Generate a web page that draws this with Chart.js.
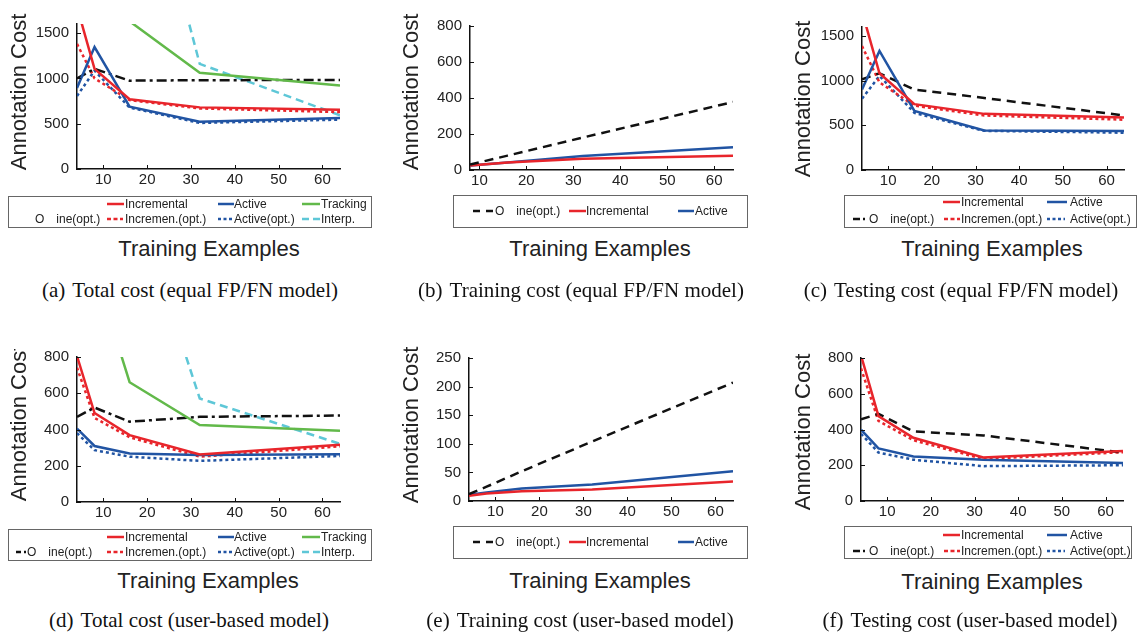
<!DOCTYPE html>
<html>
<head>
<meta charset="utf-8">
<script src="https://cdn.jsdelivr.net/npm/chart.js@4.4.1/dist/chart.umd.min.js"></script>
<style>
  body { margin: 0; background: #fff; }
  #page { position: relative; width: 1138px; height: 632px; overflow: hidden; font-family: "Liberation Sans", Arial, sans-serif; color: #222; }
  canvas { position: absolute; }
  .clip { position: absolute; overflow: hidden; }
  .ytitle { position: absolute; font-size: 22px; line-height: 22px; white-space: nowrap; transform: translate(-50%, -50%) rotate(-90deg); }
  .xtitle { position: absolute; font-size: 22px; line-height: 22px; white-space: nowrap; transform: translateX(-50%); }
  .caption { position: absolute; font-family: "Liberation Serif", "Times New Roman", serif; font-size: 21px; line-height: 21px; white-space: nowrap; transform: translateX(-50%); color: #111; }
  .legbox { position: absolute; border: 1px solid #666; box-sizing: border-box; }
  .legtxt { position: absolute; font-size: 12px; line-height: 12px; white-space: nowrap; transform: translateY(-50%); }
  .legline { position: absolute; line-height: 0; }
  .legline svg { display: block; }
</style>
</head>
<body>
<div id="page"></div>
<script>
// x values (number of training examples)
const xsFull = [4, 8, 16, 32, 64];
const xsTrain = [8, 16, 32, 64];
const xTickLabels = [10, 20, 30, 40, 50, 60];
const yTicks1600 = [0, 500, 1000, 1500];
const yTicks800 = [0, 200, 400, 600, 800];
const yTicks250 = [0, 50, 100, 150, 200, 250];

// (a) total cost, equal FP/FN model
const aIncremental = [1790, 1105, 770, 680, 655];
const aIncrOpt = [1380, 1000, 760, 668, 628];
const aActive = [895, 1345, 688, 521, 564];
const aActiveOpt = [805, 1085, 678, 508, 545];
const aOffline = [1000, 1105, 975, 980, 982];
const aTracking = [null, null, 1630, 1061, 922];
const aInterp = [null, null, 4090, 1160, 593];

// (b) training cost, equal FP/FN model
const bOffline = [30, 80, 180, 378];
const bIncremental = [25, 42, 62, 79];
const bActive = [25, 42, 78, 126];

// (c) testing cost, equal FP/FN model
const cIncremental = [1775, 1082, 737, 628, 588];
const cIncrOpt = [1387, 980, 720, 610, 563];
const cActive = [900, 1332, 661, 443, 436];
const cActiveOpt = [798, 1053, 640, 438, 417];
const cOffline = [1016, 1082, 900, 806, 610];

// (d) total cost, user-based model
const dIncremental = [805, 491, 369, 262, 316];
const dIncrOpt = [741, 464, 357, 250, 307];
const dActive = [405, 309, 268, 259, 264];
const dActiveOpt = [380, 286, 250, 227, 254];
const dOffline = [470, 521, 443, 470, 477];
const dTracking = [null, 1280, 661, 425, 393];
const dInterp = [null, null, 1755, 571, 321];

// (e) training cost, user-based model
const eOffline = [12, 25, 52, 104, 207];
const eIncremental = [9, 13, 17, 20, 34];
const eActive = [11, 15, 22, 29, 52];

// (f) testing cost, user-based model
const fIncremental = [815, 475, 354, 244, 280];
const fIncrOpt = [742, 448, 340, 235, 273];
const fActive = [399, 294, 249, 231, 213];
const fActiveOpt = [376, 271, 231, 195, 200];
const fOffline = [457, 488, 389, 367, 271];

const RED = '#e8252b', BLUE = '#2154a3', GREEN = '#62b94a', CYAN = '#5ec7d7', BLACK = '#111';
const STY = {
  incremental: { color: RED, dash: [] },
  incrOpt: { color: RED, dash: [3, 3] },
  active: { color: BLUE, dash: [] },
  activeOpt: { color: BLUE, dash: [3, 3] },
  offlineDD: { color: BLACK, dash: [10, 4, 3, 4] },
  offlineD: { color: BLACK, dash: [9, 6] },
  tracking: { color: GREEN, dash: [] },
  interp: { color: CYAN, dash: [8, 5] }
};

const YW = 60, XH = 28, PT = 12, PR = 20;

// inward tick marks, like the MATLAB axes
const inwardTicks = {
  id: 'inwardTicks',
  afterDraw(chart) {
    const { ctx, chartArea: a, scales: { x, y } } = chart;
    ctx.save();
    ctx.strokeStyle = '#111';
    ctx.lineWidth = 1;
    x.ticks.forEach(t => {
      const px = Math.round(x.getPixelForValue(t.value)) + 0.5;
      ctx.beginPath(); ctx.moveTo(px, a.bottom); ctx.lineTo(px, a.bottom - 4); ctx.stroke();
    });
    y.ticks.forEach(t => {
      const py = Math.round(y.getPixelForValue(t.value)) + 0.5;
      ctx.beginPath(); ctx.moveTo(a.left, py); ctx.lineTo(a.left + 4, py); ctx.stroke();
    });
    ctx.restore();
  }
};

const legendRows3 = (top, offlineSample, offlineTx) => [
  { k: 'incremental', label: 'Incremental', x: 107, w: 17, tx: 125, dy: 7.5, top },
  { k: 'active', label: 'Active', x: 218, w: 16, tx: 234, dy: 7.5, top },
  { k: 'tracking', label: 'Tracking', x: 302, w: 18, tx: 321, dy: 7.5, top },
  { k: 'offlineDD', label: 'O\u2003ine(opt.)', x: 16, w: 10, tx: offlineTx, dy: 23, top, dash: [5, 3, 2, 20], hide: !offlineSample },
  { k: 'incrOpt', label: 'Incremen.(opt.)', x: 107, w: 16, tx: 125, dy: 23, top, dash: [4, 2.5] },
  { k: 'activeOpt', label: 'Active(opt.)', x: 218, w: 15, tx: 234, dy: 23, top, dash: [3, 2.5] },
  { k: 'interp', label: 'Interp.', x: 302, w: 18, tx: 321, dy: 23, top, dash: [7, 4] }
];
const legendRow1 = (top) => [
  { k: 'offlineD', label: 'O\u2003ine(opt.)', x: 473, w: 21, tx: 495, dy: 16, top, dash: [7, 6] },
  { k: 'incremental', label: 'Incremental', x: 569, w: 17, tx: 586, dy: 16, top },
  { k: 'active', label: 'Active', x: 678, w: 16, tx: 695, dy: 16, top }
];
const legendRowsC = (top, dy1, dy2) => [
  { k: 'incremental', label: 'Incremental', x: 943, w: 17, tx: 961, dy: dy1, top },
  { k: 'active', label: 'Active', x: 1047, w: 20, tx: 1070, dy: dy1, top },
  { k: 'offlineDD', label: 'O\u2003ine(opt.)', x: 853, w: 15, tx: 869, dy: dy2, top, dash: [7, 3, 2, 20] },
  { k: 'incrOpt', label: 'Incremen.(opt.)', x: 944, w: 16, tx: 961, dy: dy2, top, dash: [4, 2.5] },
  { k: 'activeOpt', label: 'Active(opt.)', x: 1047, w: 18, tx: 1070, dy: dy2, top, dash: [3, 2.5] }
];

const panels = [
  { plot: [77, 19, 340, 169], xMin: 4, xMax: 64, xs: xsFull, yMax: 1600, yTicks: yTicks1600,
    series: [['incremental', aIncremental], ['active', aActive], ['tracking', aTracking], ['offlineDD', aOffline], ['incrOpt', aIncrOpt], ['activeOpt', aActiveOpt], ['interp', aInterp]],
    yt: [19, 92], clipTop: 0, xt: [209, 238], cap: [190, 280, '(a)\u2004Total cost (equal FP/FN model)'],
    box: [8, 196, 372, 228], legend: legendRows3(196, false, 35) },
  { plot: [470, 21, 733, 170], xMin: 8, xMax: 64, xs: xsTrain, yMax: 800, yTicks: yTicks800,
    series: [['offlineD', bOffline], ['incremental', bIncremental], ['active', bActive]],
    yt: [411, 92], clipTop: 0, xt: [600, 238], cap: [581, 280, '(b)\u2004Training cost (equal FP/FN model)'],
    box: [453, 195, 748, 228], legend: legendRow1(195) },
  { plot: [862, 22, 1124, 170], xMin: 4, xMax: 64, xs: xsFull, yMax: 1600, yTicks: yTicks1600,
    series: [['incremental', cIncremental], ['active', cActive], ['offlineD', cOffline], ['incrOpt', cIncrOpt], ['activeOpt', cActiveOpt]],
    yt: [803, 99], clipTop: 0, xt: [992, 238], cap: [961, 280, '(c)\u2004Testing cost (equal FP/FN model)'],
    box: [844, 195, 1137, 228], legend: legendRowsC(195, 7, 24) },
  { plot: [77, 352, 340, 502], xMin: 4, xMax: 64, xs: xsFull, yMax: 800, yTicks: yTicks800,
    series: [['incremental', dIncremental], ['active', dActive], ['tracking', dTracking], ['offlineDD', dOffline], ['incrOpt', dIncrOpt], ['activeOpt', dActiveOpt], ['interp', dInterp]],
    yt: [19, 423], clipTop: 349, xt: [208, 570], cap: [189, 610, '(d)\u2004Total cost (user-based model)'],
    box: [8, 529, 372, 561], legend: legendRows3(529, true, 27) },
  { plot: [469, 353, 733, 501], xMin: 4, xMax: 64, xs: xsFull, yMax: 250, yTicks: yTicks250,
    series: [['offlineD', eOffline], ['incremental', eIncremental], ['active', eActive]],
    yt: [411, 425], clipTop: 345, xt: [600, 570], cap: [580, 610, '(e)\u2004Training cost (user-based model)'],
    box: [453, 526, 748, 559], legend: legendRow1(526) },
  { plot: [861, 353, 1123, 501], xMin: 4, xMax: 64, xs: xsFull, yMax: 800, yTicks: yTicks800,
    series: [['incremental', fIncremental], ['active', fActive], ['offlineD', fOffline], ['incrOpt', fIncrOpt], ['activeOpt', fActiveOpt]],
    yt: [803, 432], clipTop: 340, xt: [992, 571], cap: [970, 610, '(f)\u2004Testing cost (user-based model)'],
    box: [844, 526, 1132, 559], legend: legendRowsC(526, 9, 24.5) }
];

const page = document.getElementById('page');

function el(tag, cls, css, text) {
  const e = document.createElement(tag);
  if (cls) e.className = cls;
  Object.assign(e.style, css || {});
  if (text !== undefined) e.textContent = text;
  return e;
}

function lineSvg(color, w, dash) {
  const d = dash && dash.length ? ` stroke-dasharray="${dash.join(',')}"` : '';
  return `<svg width="${w}" height="6"><line x1="0" y1="3" x2="${w}" y2="3" stroke="${color}" stroke-width="2.5"${d}/></svg>`;
}

panels.forEach(p => {
  const [l, t, r, b] = p.plot;
  const cw = (r - l) + YW + PR, ch = (b - t) + PT + XH;
  const cv = document.createElement('canvas');
  cv.width = cw; cv.height = ch;
  Object.assign(cv.style, { left: (l - YW) + 'px', top: (t - PT) + 'px', width: cw + 'px', height: ch + 'px' });
  page.appendChild(cv);

  new Chart(cv, {
    type: 'line',
    data: {
      datasets: p.series.map(([k, vals]) => ({
        label: k,
        data: p.xs.map((x, i) => ({ x, y: vals[i] })),
        borderColor: STY[k].color,
        borderDash: STY[k].dash,
        borderWidth: 2.5,
        pointRadius: 0,
        tension: 0,
        fill: false
      }))
    },
    options: {
      responsive: false,
      animation: false,
      devicePixelRatio: 1,
      layout: { padding: { top: PT, right: PR, left: 0, bottom: 0 } },
      plugins: { legend: { display: false }, tooltip: { enabled: false } },
      scales: {
        x: {
          type: 'linear', min: p.xMin, max: p.xMax,
          grid: { display: false, drawTicks: false },
          border: { display: true, color: '#111', width: 1.5 },
          ticks: { font: { family: 'Liberation Sans', size: 15 }, color: '#222', padding: 2, autoSkip: false, maxRotation: 0, callback: v => String(v) },
          afterBuildTicks: s => { s.ticks = xTickLabels.map(v => ({ value: v })); },
          afterFit: s => { s.height = XH; }
        },
        y: {
          type: 'linear', min: 0, max: p.yMax,
          grid: { display: false, drawTicks: false },
          border: { display: true, color: '#111', width: 1.5 },
          ticks: { font: { family: 'Liberation Sans', size: 15 }, color: '#222', padding: 8, autoSkip: false, callback: v => String(v) },
          afterBuildTicks: s => { s.ticks = p.yTicks.map(v => ({ value: v })); },
          afterFit: s => { s.width = YW; }
        }
      }
    },
    plugins: [inwardTicks]
  });

  // y axis title, clipped like the subfigure
  const clip = el('div', 'clip', { left: (p.yt[0] - 20) + 'px', top: p.clipTop + 'px', width: '40px', height: '300px' });
  clip.appendChild(el('div', 'ytitle', { left: '20px', top: (p.yt[1] - p.clipTop) + 'px' }, 'Annotation Cost'));
  page.appendChild(clip);

  page.appendChild(el('div', 'xtitle', { left: p.xt[0] + 'px', top: p.xt[1] + 'px' }, 'Training Examples'));
  page.appendChild(el('div', 'caption', { left: p.cap[0] + 'px', top: p.cap[1] + 'px' }, p.cap[2]));

  const [bx1, by1, bx2, by2] = p.box;
  page.appendChild(el('div', 'legbox', { left: bx1 + 'px', top: by1 + 'px', width: (bx2 - bx1) + 'px', height: (by2 - by1) + 'px' }));
  p.legend.forEach(it => {
    const cy = it.top + it.dy;
    if (!it.hide) {
      const ln = el('div', 'legline', { left: it.x + 'px', top: (cy - 3) + 'px', width: it.w + 'px', height: '6px' });
      ln.innerHTML = lineSvg(STY[it.k].color, it.w, it.dash || STY[it.k].dash);
      page.appendChild(ln);
    }
    page.appendChild(el('div', 'legtxt', { left: it.tx + 'px', top: cy + 'px' }, it.label));
  });
});
</script>
</body>
</html>
